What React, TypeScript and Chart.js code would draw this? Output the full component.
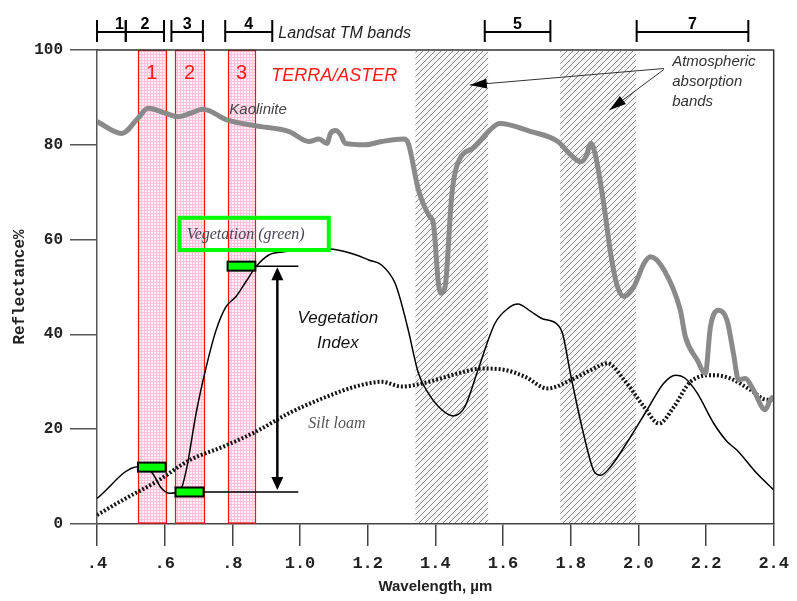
import { useEffect, useRef } from 'react';
import { Chart, registerables } from 'chart.js';

Chart.register(...registerables);

// ---------- data ----------
const kaoliniteWl = [0.4, 0.473, 0.521, 0.551, 0.605, 0.639, 0.674, 0.713, 0.786, 0.87, 0.968, 1.026, 1.056, 1.08, 1.09, 1.105, 1.12, 1.134, 1.193, 1.242, 1.306, 1.32, 1.35, 1.384, 1.394, 1.409, 1.417, 1.429, 1.448, 1.463, 1.517, 1.561, 1.59, 1.683, 1.762, 1.801, 1.83, 1.845, 1.86, 1.874, 1.899, 1.918, 1.938, 1.958, 1.987, 2.017, 2.036, 2.076, 2.124, 2.139, 2.174, 2.198, 2.213, 2.237, 2.262, 2.281, 2.296, 2.316, 2.34, 2.375, 2.39, 2.4];
const kaoliniteRefl = [84.9, 82.4, 85.6, 87.7, 86.6, 85.9, 86.6, 87.5, 85.2, 84.0, 82.8, 80.7, 81.2, 80.3, 82.4, 83.0, 82.1, 80.3, 80.0, 80.7, 81.2, 80.3, 70.5, 64.8, 63.5, 50.8, 48.7, 50.1, 69.0, 75.4, 79.6, 83.1, 84.5, 82.8, 80.7, 77.8, 76.4, 77.5, 80.3, 77.5, 66.9, 57.1, 50.1, 48.0, 50.1, 55.0, 56.4, 53.6, 45.1, 39.5, 34.6, 31.8, 41.6, 45.1, 43.0, 36.0, 30.4, 30.7, 28.3, 24.1, 26.2, 26.9];

const vegetationWl = [0.4, 0.521, 0.545, 0.565, 0.59, 0.615, 0.644, 0.664, 0.693, 0.723, 0.752, 0.781, 0.811, 0.84, 0.87, 0.909, 0.948, 1.085, 1.164, 1.203, 1.242, 1.281, 1.3, 1.32, 1.35, 1.379, 1.419, 1.453, 1.487, 1.526, 1.576, 1.615, 1.644, 1.683, 1.713, 1.762, 1.776, 1.801, 1.84, 1.87, 1.889, 1.918, 1.977, 2.026, 2.075, 2.11, 2.139, 2.174, 2.223, 2.262, 2.291, 2.35, 2.4];
const vegetationRefl = [5.4, 12.1, 11.9, 10.6, 7.6, 6.5, 6.8, 11.4, 23.4, 33.2, 40.9, 45.8, 48.0, 51.1, 54.3, 56.8, 57.4, 58.0, 56.8, 55.7, 54.6, 50.8, 46.5, 40.9, 31.8, 27.6, 24.1, 22.8, 24.7, 32.5, 42.3, 45.5, 46.4, 44.8, 43.4, 42.0, 40.2, 31.1, 18.4, 11.0, 10.3, 12.1, 18.4, 24.1, 29.7, 31.4, 30.7, 27.6, 21.2, 17.4, 15.6, 10.7, 7.2];

const siltLoamWl = [0.4, 0.477, 0.575, 0.674, 0.772, 0.87, 0.968, 1.066, 1.164, 1.242, 1.3, 1.37, 1.42, 1.468, 1.536, 1.605, 1.664, 1.732, 1.801, 1.86, 1.909, 1.958, 2.017, 2.061, 2.105, 2.154, 2.223, 2.272, 2.331, 2.38, 2.4];
const siltLoamRefl = [1.9, 5.1, 8.9, 13.5, 16.3, 19.5, 23.4, 26.5, 29.0, 30.0, 29.0, 29.8, 30.8, 31.8, 32.8, 32.5, 31.1, 28.6, 30.4, 32.5, 33.9, 30.4, 24.7, 21.2, 24.7, 30.0, 31.4, 30.7, 28.3, 26.2, 26.2];

const xTickLabels = ['.4', '.6', '.8', '1.0', '1.2', '1.4', '1.6', '1.8', '2.0', '2.2', '2.4'];

const asterBandNames = ['1', '2', '3'];
const asterBandStart = [0.521, 0.632, 0.786];
const asterBandEnd = [0.603, 0.715, 0.868];
const asterMarkerRefl = [12.0, 6.75, 54.4];

const landsatBandNames = ['1', '2', '3', '4', '5', '7'];
const landsatBandStart = [0.4, 0.485, 0.62, 0.779, 1.546, 1.995];
const landsatBandEnd = [0.485, 0.598, 0.713, 0.918, 1.74, 2.325];

const absorptionStart = [1.341, 1.769];
const absorptionEnd = [1.556, 1.993];

// ---------- helpers ----------
const SANS = '"Liberation Sans", Arial, sans-serif';
const SERIF = '"Liberation Serif", "Times New Roman", serif';
const MONO = '"Liberation Mono", "Courier New", monospace';

let hatchPattern: CanvasPattern | null = null;
let pinkPattern: CanvasPattern | null = null;

function makePatterns(ctx: CanvasRenderingContext2D) {
  if (!hatchPattern) {
    const c = document.createElement('canvas');
    c.width = 6; c.height = 6;
    const g = c.getContext('2d')!;
    g.fillStyle = '#f7f7f7';
    g.fillRect(0, 0, 6, 6);
    g.strokeStyle = '#5a5a5a';
    g.lineWidth = 0.7;
    g.beginPath();
    g.moveTo(0, 6); g.lineTo(6, 0);
    g.moveTo(-1, 1); g.lineTo(1, -1);
    g.moveTo(5, 7); g.lineTo(7, 5);
    g.stroke();
    hatchPattern = ctx.createPattern(c, 'repeat');
  }
  if (!pinkPattern) {
    const c = document.createElement('canvas');
    c.width = 3; c.height = 3;
    const g = c.getContext('2d')!;
    g.fillStyle = '#feedf4';
    g.fillRect(0, 0, 3, 3);
    g.fillStyle = '#fac3d9';
    g.fillRect(0, 0, 3, 1);
    g.fillRect(0, 0, 1, 3);
    pinkPattern = ctx.createPattern(c, 'repeat');
  }
}

function arrowHead(ctx: CanvasRenderingContext2D, fx: number, fy: number, tx: number, ty: number, len: number, half: number) {
  const ang = Math.atan2(ty - fy, tx - fx);
  const bx = tx - len * Math.cos(ang);
  const by = ty - len * Math.sin(ang);
  ctx.beginPath();
  ctx.moveTo(tx, ty);
  ctx.lineTo(bx + half * Math.sin(ang), by - half * Math.cos(ang));
  ctx.lineTo(bx - half * Math.sin(ang), by + half * Math.cos(ang));
  ctx.closePath();
  ctx.fill();
}

const overlayPlugin = {
  id: 'overlay',
  beforeDatasetsDraw(chart: any) {
    const { ctx, chartArea: a, scales } = chart;
    const xs = scales.x;
    makePatterns(ctx);
    ctx.save();
    for (let i = 0; i < absorptionStart.length; i++) {
      const x0 = xs.getPixelForValue(absorptionStart[i]);
      const x1 = xs.getPixelForValue(absorptionEnd[i]);
      ctx.fillStyle = hatchPattern as any;
      ctx.fillRect(x0, a.top + 1, x1 - x0, a.bottom - a.top - 2);
    }
    for (let i = 0; i < asterBandStart.length; i++) {
      const x0 = Math.round(xs.getPixelForValue(asterBandStart[i])) + 0.5;
      const x1 = Math.round(xs.getPixelForValue(asterBandEnd[i])) + 0.5;
      ctx.fillStyle = pinkPattern as any;
      ctx.fillRect(x0, a.top, x1 - x0, a.bottom - a.top - 1);
      ctx.strokeStyle = '#ff1010';
      ctx.lineWidth = 1.2;
      ctx.strokeRect(x0, a.top + 0.5, x1 - x0, a.bottom - a.top - 1.5);
    }
    ctx.restore();
  },
  afterDatasetsDraw(chart: any) {
    const { ctx, chartArea: a, scales } = chart;
    const xs = scales.x;
    const ys = scales.y;
    const X = (v: number) => xs.getPixelForValue(v);
    const Y = (v: number) => ys.getPixelForValue(v);
    ctx.save();

    ctx.strokeStyle = '#333';
    ctx.lineWidth = 1.5;
    ctx.beginPath();
    ctx.moveTo(a.left, a.top);
    ctx.lineTo(a.right, a.top);
    ctx.lineTo(a.right, a.bottom);
    ctx.stroke();

    ctx.strokeStyle = '#000';
    ctx.lineWidth = 1.5;
    ctx.beginPath();
    ctx.moveTo(X(asterBandEnd[2]), Y(asterMarkerRefl[2]));
    ctx.lineTo(X(0.995), Y(asterMarkerRefl[2]));
    ctx.moveTo(X(asterBandEnd[1]), Y(asterMarkerRefl[1]));
    ctx.lineTo(X(0.995), Y(asterMarkerRefl[1]));
    ctx.stroke();
    const ax = X(0.933);
    const ay0 = Y(asterMarkerRefl[2]) + 1;
    const ay1 = Y(asterMarkerRefl[1]) - 2;
    ctx.lineWidth = 2.5;
    ctx.beginPath();
    ctx.moveTo(ax, ay0 + 8);
    ctx.lineTo(ax, ay1 - 8);
    ctx.stroke();
    ctx.fillStyle = '#000';
    arrowHead(ctx, ax, ay1, ax, ay0, 13, 6);
    arrowHead(ctx, ax, ay0, ax, ay1, 13, 6);

    for (let i = 0; i < asterBandStart.length; i++) {
      const x0 = X(asterBandStart[i]);
      const x1 = X(asterBandEnd[i]);
      const yc = Y(asterMarkerRefl[i]);
      ctx.fillStyle = '#00ff00';
      ctx.fillRect(x0, yc - 4.5, x1 - x0, 9);
      ctx.strokeStyle = '#000';
      ctx.lineWidth = 2;
      ctx.strokeRect(x0, yc - 4.5, x1 - x0, 9);
    }

    ctx.fillStyle = '#ff1a1a';
    ctx.font = `20px ${SANS}`;
    ctx.textAlign = 'center';
    ctx.textBaseline = 'alphabetic';
    for (let i = 0; i < asterBandNames.length; i++) {
      ctx.fillText(asterBandNames[i], (X(asterBandStart[i]) + X(asterBandEnd[i])) / 2, Y(93.8));
    }
    ctx.textAlign = 'left';
    ctx.font = `italic 18px ${SANS}`;
    ctx.fillText('TERRA/ASTER', X(0.915), Y(93.4));

    ctx.strokeStyle = '#000';
    ctx.fillStyle = '#000';
    ctx.lineWidth = 2;
    const by = a.top - 18;
    for (let i = 0; i < landsatBandStart.length; i++) {
      const x0 = X(landsatBandStart[i]);
      const x1 = X(landsatBandEnd[i]);
      ctx.beginPath();
      ctx.moveTo(x0, by); ctx.lineTo(x1, by);
      ctx.moveTo(x0, a.top - 30); ctx.lineTo(x0, a.top - 8);
      ctx.moveTo(x1, a.top - 30); ctx.lineTo(x1, a.top - 8);
      ctx.stroke();
      ctx.font = `bold 16px ${SANS}`;
      ctx.textAlign = 'center';
      const cx = i === 0 ? x0 + (x1 - x0) * 0.78 : (x0 + x1) / 2;
      ctx.fillText(landsatBandNames[i], cx, a.top - 21.5);
    }
    ctx.font = `italic 16px ${SANS}`;
    ctx.textAlign = 'left';
    ctx.fillStyle = '#222';
    ctx.fillText('Landsat TM bands', X(0.936), a.top - 12.5);

    ctx.fillStyle = '#333';
    ctx.font = `italic 15px ${SANS}`;
    const tx = X(2.1);
    const ty = Y(96.6);
    ctx.fillText('Atmospheric', tx, ty);
    ctx.fillText('absorption', tx, ty + 20);
    ctx.fillText('bands', tx, ty + 40);
    ctx.strokeStyle = '#333';
    ctx.lineWidth = 1;
    const sx = X(2.0755), sy = Y(96.1);
    const t1x = X(1.502), t1y = Y(92.6);
    const t2x = X(1.914), t2y = Y(87.3);
    ctx.beginPath();
    ctx.moveTo(sx, sy); ctx.lineTo(t1x, t1y);
    ctx.moveTo(sx, sy + 1); ctx.lineTo(t2x, t2y);
    ctx.stroke();
    ctx.fillStyle = '#000';
    arrowHead(ctx, sx, sy, t1x, t1y, 17, 5);
    arrowHead(ctx, sx, sy + 1, t2x, t2y, 17, 5);

    ctx.fillStyle = '#444';
    ctx.font = `italic 15px ${SANS}`;
    ctx.textAlign = 'left';
    ctx.fillText('Kaolinite', X(0.791), Y(86.4));

    const gx0 = X(0.644), gx1 = X(1.085), gy0 = Y(64.6), gy1 = Y(57.8);
    ctx.strokeStyle = '#00ff00';
    ctx.lineWidth = 4;
    ctx.strokeRect(gx0, gy0, gx1 - gx0, gy1 - gy0);
    ctx.fillStyle = '#4a4556';
    ctx.font = `italic 16px ${SERIF}`;
    ctx.fillText('Vegetation (green)', X(0.665), Y(60.2));

    ctx.fillStyle = '#111';
    ctx.font = `italic 17px ${SANS}`;
    ctx.textAlign = 'center';
    ctx.fillText('Vegetation', X(1.112), Y(42.4));
    ctx.fillText('Index', X(1.112), Y(37.1));

    ctx.fillStyle = '#555';
    ctx.font = `italic 16px ${SERIF}`;
    ctx.fillText('Silt loam', X(1.109), Y(20.25));

    ctx.restore();
  },
};

export default function App() {
  const ref = useRef<HTMLCanvasElement | null>(null);

  useEffect(() => {
    if (!ref.current) return;
    const toPts = (xs: number[], ys: number[]) => xs.map((x, i) => ({ x, y: ys[i] }));
    const chart = new Chart(ref.current, {
      type: 'line',
      data: {
        datasets: [
          {
            label: 'Kaolinite',
            data: toPts(kaoliniteWl, kaoliniteRefl),
            borderColor: '#8a8a8a',
            borderWidth: 5,
            pointRadius: 0,
            fill: false,
            cubicInterpolationMode: 'monotone',
          },
          {
            label: 'Silt loam',
            data: toPts(siltLoamWl, siltLoamRefl),
            borderColor: '#151515',
            borderWidth: 4,
            borderDash: [2, 2],
            pointRadius: 0,
            fill: false,
            cubicInterpolationMode: 'monotone',
          },
          {
            label: 'Vegetation (green)',
            data: toPts(vegetationWl, vegetationRefl),
            borderColor: '#000',
            borderWidth: 1.5,
            pointRadius: 0,
            fill: false,
            cubicInterpolationMode: 'monotone',
          },
        ],
      },
      options: {
        responsive: false,
        animation: false,
        devicePixelRatio: 1,
        layout: { padding: { top: 50, right: 20, left: 0, bottom: 0 } },
        plugins: { legend: { display: false }, tooltip: { enabled: false } },
        scales: {
          x: {
            type: 'linear',
            min: 0.4,
            max: 2.4,
            ticks: {
              stepSize: 0.2,
              autoSkip: false,
              maxRotation: 0,
              padding: 8,
              color: '#222',
              font: { family: MONO, size: 17, weight: 'bold' },
              callback: (_v: any, i: number) => xTickLabels[i] ?? '',
            },
            grid: { drawOnChartArea: false, drawTicks: true, tickLength: 22, color: '#444', lineWidth: 1.5 },
            border: { display: true, color: '#444', width: 1.5 },
            title: {
              display: true,
              text: 'Wavelength, \u00b5m',
              color: '#222',
              font: { family: SANS, size: 15, weight: 'bold' },
              padding: { top: 0, bottom: 5 },
            },
            afterFit: (s: any) => { s.height = 77; },
          },
          y: {
            min: 0,
            max: 100,
            ticks: {
              stepSize: 20,
              padding: 7,
              color: '#222',
              font: { family: MONO, size: 16, weight: 'bold' },
            },
            grid: { drawOnChartArea: false, drawTicks: true, tickLength: 27, color: '#555', lineWidth: 1.5 },
            border: { display: true, color: '#555', width: 1.5 },
            title: {
              display: true,
              text: 'Reflectance%',
              color: '#222',
              font: { family: MONO, size: 16, weight: 'bold' },
              padding: { top: 10, bottom: 0 },
            },
            afterFit: (s: any) => { s.width = 97; },
          },
        },
      },
      plugins: [overlayPlugin],
    } as any);
    return () => chart.destroy();
  }, []);

  return (
    <div style={{ position: 'fixed', left: 0, top: 0, width: 797, height: 601, background: '#fff' }}>
      <canvas ref={ref} width={797} height={601} style={{ display: 'block' }} />
    </div>
  );
}
